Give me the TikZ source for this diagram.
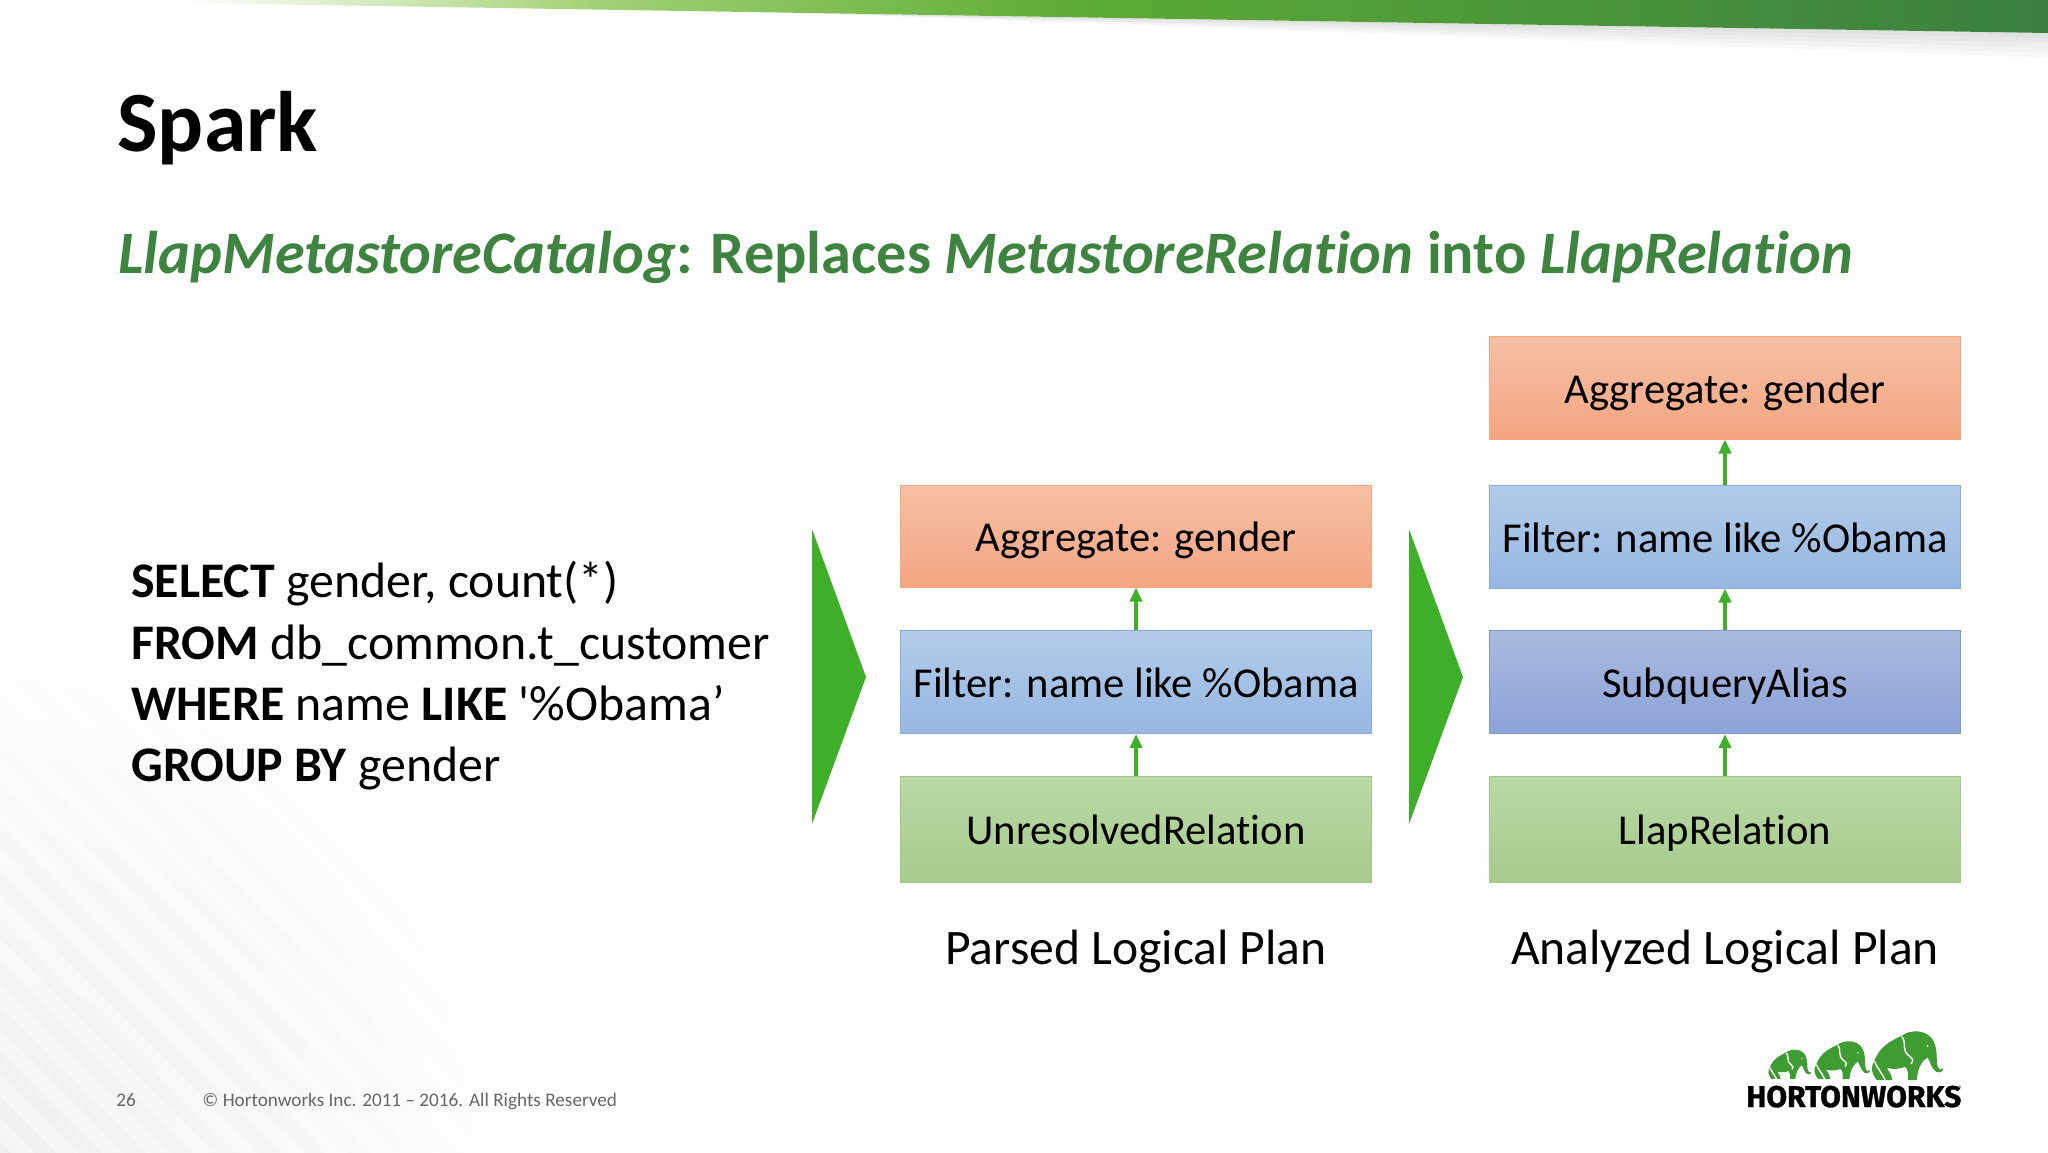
\documentclass[tikz,border=0pt]{standalone}
\usepackage{fontspec}
\setmainfont[Ligatures={CommonOff,TeXOff}]{Carlito}
\newfontfamily\logofont[FakeBold=1]{Fira Sans Bold}
\usetikzlibrary{arrows.meta}
\definecolor{subgreen}{HTML}{3E8440}
\definecolor{conn}{HTML}{3FAF2A}
\definecolor{elegreen}{HTML}{3F9C33}
\definecolor{banA}{HTML}{A3D275}
\definecolor{banB}{HTML}{5CAB35}
\definecolor{banC}{HTML}{3A7F40}
\definecolor{orD}{HTML}{F2A67C}
\definecolor{orT}{HTML}{F6C0A5}
\definecolor{orB}{HTML}{F4A581}
\definecolor{blD}{HTML}{86ADDF}
\definecolor{blT}{HTML}{B2CCE9}
\definecolor{blB}{HTML}{97B7E2}
\definecolor{puD}{HTML}{7F97D3}
\definecolor{puT}{HTML}{AABADF}
\definecolor{puB}{HTML}{8CA3D8}
\definecolor{grD}{HTML}{A2C98A}
\definecolor{grT}{HTML}{BAD9A6}
\definecolor{grB}{HTML}{A6CB8C}
\pgfdeclarehorizontalshading{bannershade}{100bp}{
  color(0bp)=(white); color(25bp)=(white);
  color(36bp)=(banA); color(49bp)=(banB); color(75bp)=(banC); color(100bp)=(banC)}
\tikzset{
  x=0.5pt,y=-0.5pt,
  planbox/.style={draw=#1,line width=0.5pt,inner sep=0pt,anchor=north west,
     text height=16pt,text depth=0.5pt,
     font=\fontsize{21.3}{26}\selectfont,text=black},
  orangebox/.style={planbox=orD,top color=orT,bottom color=orB},
  bluebox/.style={planbox=blD,top color=blT,bottom color=blB},
  purplebox/.style={planbox=puD,top color=puT,bottom color=puB},
  greenbox/.style={planbox=grD,top color=grT,bottom color=grB},
  flow/.style={draw=conn,line width=2pt,-{Triangle[length=7pt,width=6pt]}},
  bigarrow/.style={fill=conn,draw=none},
  caption/.style={anchor=base,font=\fontsize{24.8}{30}\selectfont,text=black,inner sep=0pt},
  footer/.style={anchor=base west,inner sep=0pt,text=black!60,font=\fontsize{9.6}{11}\selectfont},
  elephant/.pic={
    \fill[elegreen] (15,148) .. controls (-2,125) and (-4,112) .. (8,90)
      .. controls (25,45) and (60,30) .. (90,15)
      .. controls (115,-4) and (165,-5) .. (185,30)
      .. controls (200,60) and (192,85) .. (198,108)
      .. controls (202,120) and (212,118) .. (215,112)
      .. controls (215,128) and (195,130) .. (185,115)
      .. controls (175,100) and (172,85) .. (168,80)
      .. controls (155,90) and (140,100) .. (135,148)
      -- (108,148) .. controls (112,130) and (108,115) .. (100,108)
      .. controls (85,116) and (65,116) .. (45,112)
      .. controls (55,125) and (60,135) .. (62,148) -- cycle;
    \draw[white,line width=0.7pt] (90,17) .. controls (108,40) and (85,55) .. (115,78)
      .. controls (125,85) and (125,90) .. (118,100);
    \draw[white,line width=0.7pt] (8,92) .. controls (15,110) and (30,125) .. (40,148);
    \fill[white] (168,46) circle (3);
  }
}
\begin{document}
\begin{tikzpicture}
\useasboundingbox (0,0) rectangle (2048,1152);
\fill[white] (0,0) rectangle (2048,1152);
% background corner
\begin{scope}
\clip (0,0) rectangle (2048,1152);
\shade[inner color=black!6,outer color=white] (0,1152) circle (560);
\foreach \o in {-500,-455,...,400}{
  \draw[white,opacity=.45,line width=8pt] (-50,950+\o) -- (950,1950+\o);
}
\foreach \k in {5,10,15,20,25}{
  \fill[black,opacity=.025] (800,13) -- (2048,33) -- (2048,33+\k) -- cycle;
}
\shade[shading=bannershade] (180,0) -- (2048,0) -- (2048,33) -- (190,3) -- cycle;
\end{scope}
% header
\node[anchor=base west,inner sep=0pt,font=\fontsize{42.9}{50}\selectfont\bfseries] (title) at (117,151) {Spark};
\node[anchor=base west,inner sep=0pt,text=subgreen,font=\fontsize{30.17}{36}\selectfont\bfseries] (sub) at (118,273)
  {\itshape LlapMetastoreCatalog\upshape: Replaces \itshape MetastoreRelation\upshape{} into \itshape LlapRelation};
% SQL
\node[anchor=north west,inner sep=0pt,align=left,font=\fontsize{24.9}{30.6}\selectfont] (sql) at (131,561)
  {\textbf{SELECT} gender, count(*)\\ \textbf{FROM} db\_common.t\_customer\\ \textbf{WHERE} name \textbf{LIKE} '\%Obama’\\ \textbf{GROUP BY} gender};
% big arrows
\fill[bigarrow] (812,529) -- (866,677) -- (812,824) -- cycle;
\fill[bigarrow] (1409,529) -- (1463,677) -- (1409,824) -- cycle;
% left column
\node[orangebox,minimum width=235.5pt,minimum height=51pt] (a1) at (900,484.5) {Aggregate: gender};
\node[bluebox,minimum width=235.5pt,minimum height=51.5pt] (f1) at (900,630) {Filter: name like \%Obama};
\node[greenbox,minimum width=235.5pt,minimum height=53pt] (u1) at (900,775.5) {UnresolvedRelation};
\draw[flow] (f1.north) -- (a1.south);
\draw[flow] (u1.north) -- (f1.south);
\node[caption] (c1) at (1136,964) {Parsed Logical Plan};
% right column
\node[orangebox,minimum width=235.5pt,minimum height=51.5pt] (a2) at (1489,335.5) {Aggregate: gender};
\node[bluebox,minimum width=235.5pt,minimum height=51.5pt] (f2) at (1489,484.5) {Filter: name like \%Obama};
\node[purplebox,minimum width=235.5pt,minimum height=51.5pt] (s2) at (1489,630) {SubqueryAlias};
\node[greenbox,minimum width=235.5pt,minimum height=53pt] (l2) at (1489,775.5) {LlapRelation};
\draw[flow] (f2.north) -- (a2.south);
\draw[flow] (s2.north) -- (f2.south);
\draw[flow] (l2.north) -- (s2.south);
\node[caption] (c2) at (1725,964) {Analyzed Logical Plan};
% footer
\node[footer] (pg) at (116,1106) {26};
\node[footer] (copy) at (202,1106) {© Hortonworks Inc. 2011 – 2016. All Rights Reserved};
% logo
\pic[scale=0.333] at (1871.7,1030.7) {elephant};
\pic[scale=0.26] at (1814.3,1040.7) {elephant};
\pic[scale=0.2] at (1768.3,1049.3) {elephant};
\node[anchor=base west,inner sep=0pt,font=\logofont\fontsize{15}{18}\selectfont] (logo) at (1746,1107) {HORTONWORKS};
\node[anchor=base west,inner sep=0pt,font=\fontsize{4}{5}\selectfont] (reg) at (1958,1091) {®};
\end{tikzpicture}
\end{document}
